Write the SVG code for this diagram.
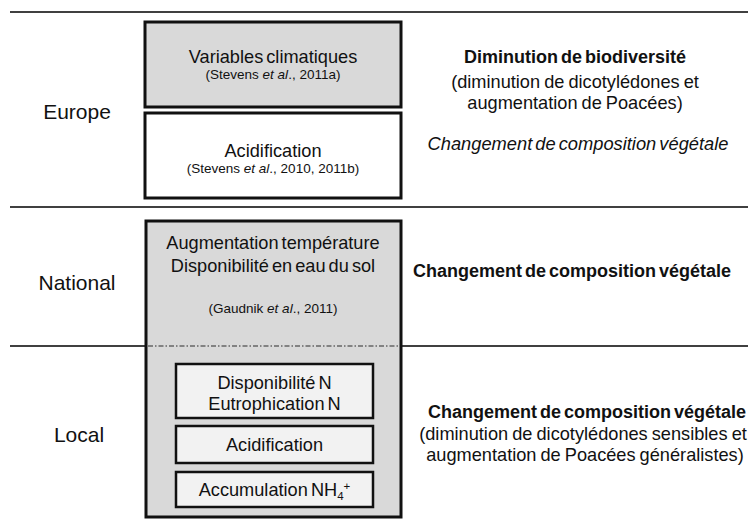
<svg xmlns="http://www.w3.org/2000/svg" width="748" height="520" viewBox="0 0 748 520">
<style>
text{font-family:"Liberation Sans",Arial,sans-serif;fill:#111;}
.lab{font-size:21px;text-anchor:middle;}
.bt{font-size:18.2px;text-anchor:middle;word-spacing:-2px;}
.ct{font-size:13.5px;text-anchor:middle;}
.rb{font-size:18px;font-weight:bold;text-anchor:middle;word-spacing:-2px;}
.rt{font-size:18.2px;text-anchor:middle;word-spacing:-1px;}
.ri{font-size:18.3px;font-style:italic;text-anchor:middle;word-spacing:-2px;}
.box{stroke:#111;stroke-width:3;}
.ibox{stroke:#111;stroke-width:2.5;fill:#f2f2f2;}
.sep{stroke:#000;stroke-width:1.5;fill:none;}
</style>
<g id="separators">
<line class="sep" x1="10" y1="12" x2="748" y2="12"/>
<line class="sep" x1="10" y1="207" x2="748" y2="207"/>
<line class="sep" x1="10" y1="346" x2="146" y2="346"/>
<line class="sep" x1="402" y1="346" x2="748" y2="346"/>
</g>
<g id="labels">
<text class="lab" x="77" y="119">Europe</text>
<text class="lab" x="77" y="290">National</text>
<text class="lab" x="79" y="442">Local</text>
</g>
<g id="node-climat">
<rect class="box" x="145" y="22" width="256" height="85" fill="#d9d9d9"/>
<text class="bt" x="273" y="63">Variables climatiques</text>
<text class="ct" x="273" y="79">(Stevens <tspan font-style="italic">et al</tspan>., 2011a)</text>
</g>
<g id="node-acid-eu">
<rect class="box" x="145" y="113" width="256" height="85" fill="#ffffff"/>
<text class="bt" x="273" y="157">Acidification</text>
<text class="ct" x="273" y="173">(Stevens <tspan font-style="italic">et al</tspan>., 2010, 2011b)</text>
</g>
<g id="node-national">
<rect class="box" x="146" y="221" width="255" height="296" fill="#d9d9d9"/>
<text class="bt" x="273" y="249">Augmentation température</text>
<text class="bt" x="273" y="272">Disponibilité en eau du sol</text>
<text class="ct" x="273" y="313">(Gaudnik <tspan font-style="italic">et al</tspan>., 2011)</text>
<line x1="148" y1="346" x2="399" y2="346" stroke="#666" stroke-width="1.3" stroke-dasharray="5,2,1.5,2"/>
</g>
<g id="node-dispN">
<rect class="ibox" x="176" y="364" width="197" height="54"/>
<text class="bt" x="274.5" y="389">Disponibilité N</text>
<text class="bt" x="274.5" y="410">Eutrophication N</text>
</g>
<g id="node-acid-local">
<rect class="ibox" x="176" y="426" width="197" height="37"/>
<text class="bt" x="274.5" y="451">Acidification</text>
</g>
<g id="node-nh4">
<rect class="ibox" x="176" y="472" width="197" height="35"/>
<text class="bt" x="274.5" y="496">Accumulation NH<tspan font-size="11.5px" dy="4">4</tspan><tspan font-size="11.5px" dy="-10">+</tspan></text>
</g>
<g id="effects">
<text class="rb" x="575" y="63">Diminution de biodiversité</text>
<text class="rt" x="575" y="88">(diminution de dicotylédones et</text>
<text class="rt" x="575" y="109">augmentation de Poacées)</text>
<text class="ri" x="578" y="150">Changement de composition végétale</text>
<text class="rb" x="572" y="277">Changement de composition végétale</text>
<text class="rb" x="587" y="418">Changement de composition végétale</text>
<text class="rt" x="583" y="440">(diminution de dicotylédones sensibles et</text>
<text class="rt" x="585" y="461">augmentation de Poacées généralistes)</text>
</g>
</svg>
